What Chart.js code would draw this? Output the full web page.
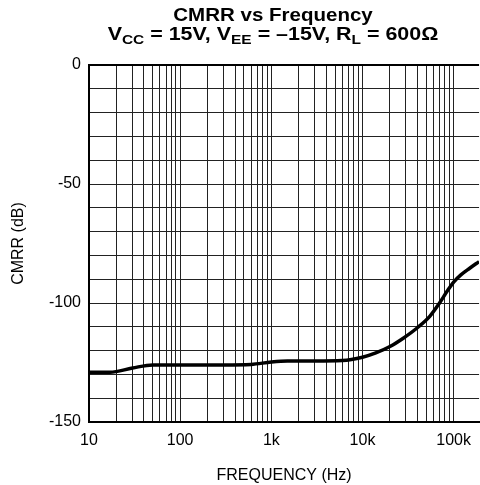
<!DOCTYPE html>
<html>
<head>
<meta charset="utf-8">
<script src="https://cdn.jsdelivr.net/npm/chart.js@4/dist/chart.umd.min.js"></script>
<style>
  html, body { margin:0; padding:0; background:#fff; overflow:hidden; }
  #wrap { position:relative; width:480px; height:485px; }
  #title { position:absolute; left:73px; width:400px; top:6px; text-align:center;
           font-family:"Liberation Sans", Arial, sans-serif; font-weight:bold; font-size:18px;
           line-height:19px; color:#000; }
  #title .ln { display:block; transform-origin:center; white-space:nowrap; }
  #title .l1 { transform:scaleX(1.14); }
  #title .l2 { transform:scaleX(1.19); }
  #title sub { font-size:13px; vertical-align:-4px; line-height:0; }
  canvas { position:absolute; left:0; top:0; }
</style>
</head>
<body>
<div id="wrap">
  <canvas id="c" width="480" height="485"></canvas>
  <div id="title"><span class="ln l1">CMRR vs Frequency</span><span class="ln l2">V<sub>CC</sub> = 15V, V<sub>EE</sub> = –15V, R<sub>L</sub> = 600Ω</span></div>
</div>
<script>
const freqHz = [10, 17, 30, 50, 100, 300, 600, 1000, 1500, 3000, 6000, 10000, 14000, 20000, 28000, 40000, 55000, 70000, 85000, 100000, 120000, 150000, 190000];
const cmrrDb = [-129.1, -129.1, -127.3, -126, -126, -126, -125.8, -124.8, -124.4, -124.4, -124.2, -122.8, -121, -118.3, -114.8, -110.4, -105.5, -100, -95, -91.2, -88.2, -85.4, -82.6];
const xTickValues = [10, 100, 1000, 10000, 100000];
const xTickLabels = ['10', '100', '1k', '10k', '100k'];
const yTickValues = [0, -50, -100, -150];

const xMin = 10, xMax = 190000;
const gridValues = [];
xTickValues.forEach(d => { for (let m = 1; m <= 9; m++) { const v = m * d; if (v <= xMax) gridValues.push(v); } });

const fontFam = '"Liberation Sans", Arial, sans-serif';

new Chart(document.getElementById('c'), {
  type: 'line',
  data: {
    datasets: [{
      data: freqHz.map((f, i) => ({ x: f, y: cmrrDb[i] })),
      borderColor: '#000',
      borderWidth: 3.5,
      pointRadius: 0,
      fill: false,
      cubicInterpolationMode: 'monotone'
    }]
  },
  options: {
    responsive: false,
    animation: false,
    layout: { padding: { top: 65, left: 0, right: 0, bottom: 0 } },
    plugins: { legend: { display: false }, tooltip: { enabled: false }, title: { display: false } },
    scales: {
      x: {
        type: 'logarithmic',
        min: xMin, max: xMax,
        afterBuildTicks: s => { s.ticks = gridValues.map(v => ({ value: v })); },
        afterFit: s => { s.height = 63; },
        ticks: {
          autoSkip: false, maxRotation: 0, minRotation: 0, padding: 9, color: '#000',
          font: { family: fontFam, size: 16 },
          callback: (v) => { const i = xTickValues.indexOf(v); return i >= 0 ? xTickLabels[i] : ''; }
        },
        grid: { color: '#222', lineWidth: 1, drawTicks: false },
        border: { color: '#000', width: 2 },
        title: { display: true, text: 'FREQUENCY (Hz)', color: '#000', font: { family: fontFam, size: 16 }, padding: { top: 11, bottom: 0 } }
      },
      y: {
        min: -150, max: 0,
        afterFit: s => { s.width = 89; },
        ticks: {
          stepSize: 10, autoSkip: false, padding: 8, color: '#000',
          font: { family: fontFam, size: 16 },
          callback: (v) => yTickValues.includes(v) ? String(v) : ''
        },
        grid: {
          color: ctx => (ctx.tick && ctx.tick.value === 0) ? '#000' : '#222',
          lineWidth: ctx => (ctx.tick && ctx.tick.value === 0) ? 2 : 1,
          drawTicks: false
        },
        border: { color: '#000', width: 2 },
        title: { display: true, text: 'CMRR (dB)', color: '#000', font: { family: fontFam, size: 16 }, padding: { top: 9, bottom: 10 } }
      }
    }
  }
});
</script>
</body>
</html>
